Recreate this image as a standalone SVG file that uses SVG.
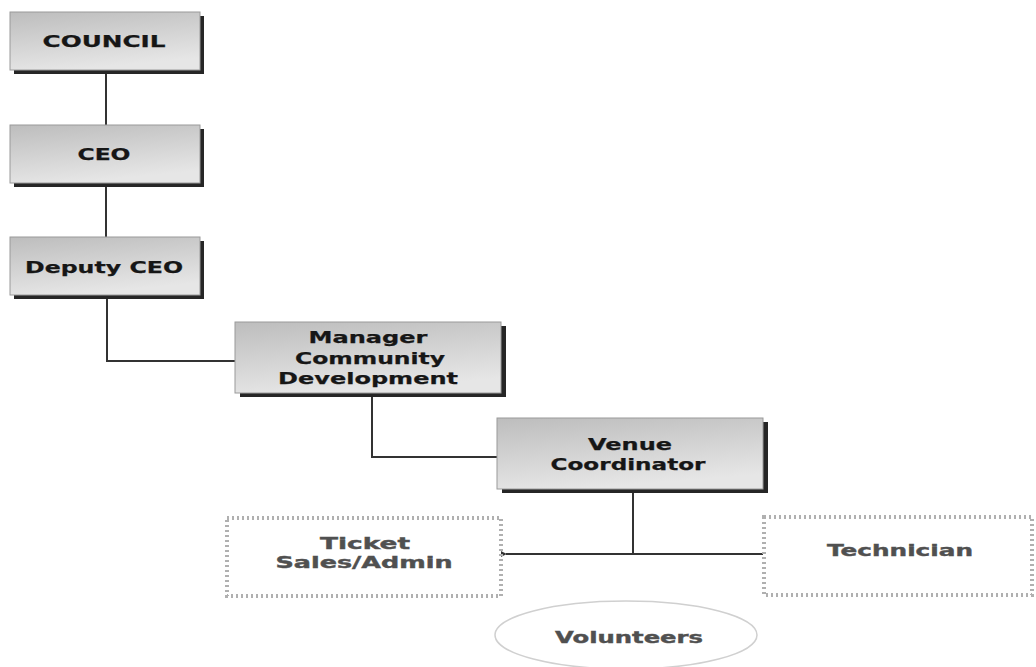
<svg xmlns="http://www.w3.org/2000/svg" width="1036" height="667" viewBox="0 0 1036 667">
<style>
.box{fill:url(#g);stroke:#9a9a9a;stroke-width:1}
.sh{fill:#262626}
.t{font-family:"DejaVu Sans","Verdana",sans-serif;font-weight:bold;font-size:16px;fill:#161616;stroke:#161616;stroke-width:0.25;text-anchor:middle}
.d{font-family:"DejaVu Sans","Verdana",sans-serif;font-weight:bold;font-size:16px;fill:#505050;stroke:#505050;stroke-width:0.4;text-anchor:middle}
.dot{fill:#fff;stroke:#b0b0b0;stroke-width:4;stroke-dasharray:2 3}
.c{fill:none;stroke:#333;stroke-width:2}
</style>
<defs>
<linearGradient id="g" x1="0" y1="0" x2="0.3" y2="1">
<stop offset="0" stop-color="#bdbdbd"/>
<stop offset="1" stop-color="#e6e6e6"/>
</linearGradient>
<marker id="a" viewBox="0 0 10 10" refX="1" refY="5" markerWidth="4" markerHeight="4" orient="auto-start-reverse">
<path d="M10,0 L0,5 L10,10 z" fill="#333"/>
</marker>
</defs>
<rect width="1036" height="667" fill="#fff"/>
<g id="connectors">
<path class="c" d="M106,74 V125"/>
<path class="c" d="M106,187 V237"/>
<path class="c" d="M107,299 V361 H235"/>
<path class="c" d="M372,396 V457 H497"/>
<path class="c" d="M633,493 V554"/>
<path class="c" d="M763,554 H506" marker-end="url(#a)"/>
</g>
<g id="council">
<rect class="sh" x="14" y="16" width="190" height="58"/>
<rect class="box" x="10" y="12" width="190" height="58"/>
<text class="t" x="104" y="47" textLength="123" lengthAdjust="spacingAndGlyphs">COUNCIL</text>
</g>
<g id="ceo">
<rect class="sh" x="14" y="129" width="190" height="58"/>
<rect class="box" x="10" y="125" width="190" height="58"/>
<text class="t" x="104" y="160" textLength="53" lengthAdjust="spacingAndGlyphs">CEO</text>
</g>
<g id="deputy">
<rect class="sh" x="14" y="241" width="190" height="58"/>
<rect class="box" x="10" y="237" width="190" height="58"/>
<text class="t" x="104" y="273" font-size="17" textLength="158" lengthAdjust="spacingAndGlyphs">Deputy CEO</text>
</g>
<g id="manager">
<rect class="sh" x="240" y="326" width="266" height="71"/>
<rect class="box" x="235" y="322" width="266" height="71"/>
<text class="t" x="368" y="343" font-size="17" textLength="119" lengthAdjust="spacingAndGlyphs">Manager</text>
<text class="t" x="370" y="364" font-size="17" textLength="150" lengthAdjust="spacingAndGlyphs">Community</text>
<text class="t" x="368" y="384" font-size="17" textLength="180" lengthAdjust="spacingAndGlyphs">Development</text>
</g>
<g id="venue">
<rect class="sh" x="502" y="422" width="266" height="71"/>
<rect class="box" x="497" y="418" width="266" height="71"/>
<text class="t" x="630" y="450" font-size="17" textLength="84" lengthAdjust="spacingAndGlyphs">Venue</text>
<text class="t" x="628" y="470" font-size="17" textLength="155" lengthAdjust="spacingAndGlyphs">Coordinator</text>
</g>
<g id="ticket">
<rect class="dot" x="227" y="518" width="274" height="78"/>
<text class="d" x="365" y="549" textLength="90" lengthAdjust="spacingAndGlyphs">Ticket</text>
<text class="d" x="364" y="568" textLength="177" lengthAdjust="spacingAndGlyphs">Sales/Admin</text>
</g>
<g id="technician">
<rect class="dot" x="764" y="517" width="268" height="78"/>
<text class="d" x="900" y="556" textLength="146" lengthAdjust="spacingAndGlyphs">Technician</text>
</g>
<g id="volunteers">
<ellipse cx="626" cy="635" rx="131" ry="34" fill="#fff" stroke="#d0d0d0" stroke-width="1.5"/>
<text class="d" x="629" y="643" textLength="148" lengthAdjust="spacingAndGlyphs">Volunteers</text>
</g>
</svg>
